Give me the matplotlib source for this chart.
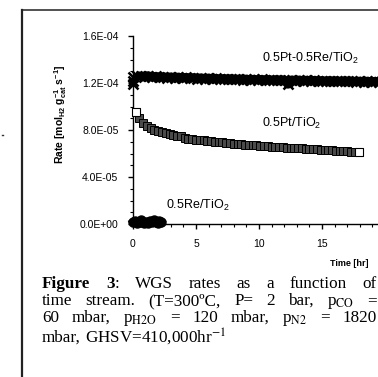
import matplotlib
matplotlib.use("Agg")
import matplotlib.pyplot as plt
from matplotlib.ticker import MultipleLocator, FuncFormatter
from matplotlib.lines import Line2D

# ---------------- data ----------------
pt_time = [0.2, 0.5, 0.8, 1.1, 1.4, 1.7, 2.0, 2.3, 2.6, 2.9,
           3.2, 3.5, 3.8, 4.1, 4.4, 4.7, 5.0, 5.3, 5.6, 5.9,
           6.2, 6.5, 6.8, 7.1, 7.4, 7.7, 8.0, 8.3, 8.6, 8.9,
           9.2, 9.5, 9.8, 10.1, 10.4, 10.7, 11.0, 11.3, 11.6, 11.9,
           12.2, 12.5, 12.8, 13.1, 13.4, 13.7, 14.0, 14.3, 14.6, 14.9,
           15.2, 15.5, 15.8, 16.1, 16.4, 16.7, 17.0, 17.3, 17.6, 17.9]
pt_rate = [9.55e-5, 9.0e-5, 8.62e-5, 8.35e-5, 8.15e-5, 8.0e-5, 7.9e-5, 7.8e-5, 7.72e-5, 7.65e-5,
           7.58e-5, 7.52e-5, 7.46e-5, 7.32e-5, 7.27e-5, 7.23e-5, 7.19e-5, 7.15e-5, 7.11e-5, 7.07e-5,
           7.03e-5, 7.0e-5, 6.97e-5, 6.94e-5, 6.91e-5, 6.88e-5, 6.85e-5, 6.82e-5, 6.79e-5, 6.76e-5,
           6.74e-5, 6.71e-5, 6.69e-5, 6.66e-5, 6.64e-5, 6.62e-5, 6.59e-5, 6.57e-5, 6.55e-5, 6.53e-5,
           6.51e-5, 6.49e-5, 6.47e-5, 6.45e-5, 6.43e-5, 6.41e-5, 6.39e-5, 6.37e-5, 6.35e-5, 6.33e-5,
           6.31e-5, 6.29e-5, 6.27e-5, 6.25e-5, 6.23e-5, 6.21e-5, 6.19e-5, 6.17e-5, 6.15e-5, 6.12e-5]

ptre_time = [0.0, 0.0, 0.0,
             0.3, 0.6, 0.9, 1.2, 1.5, 1.8, 2.1, 2.4, 2.7, 3.0,
             3.3, 3.6, 3.9, 4.2, 4.5, 4.8, 5.1, 5.4, 5.7, 6.0,
             6.3, 6.6, 6.9, 7.2, 7.5, 7.8, 8.1, 8.4, 8.7, 9.0,
             9.3, 9.6, 9.9, 10.2, 10.5, 10.8, 11.1, 11.4, 11.7, 12.0,
             12.3, 12.6, 12.9, 13.2, 13.5, 13.8, 14.1, 14.4, 14.7, 15.0,
             15.3, 15.6, 15.9, 16.2, 16.5, 16.8, 17.1, 17.4, 17.7, 18.0,
             18.3, 18.6, 18.9, 19.2, 19.5, 19.8, 20.1]
ptre_rate = [1.19e-4, 1.22e-4, 1.25e-4,
             1.262e-4, 1.258e-4, 1.254e-4, 1.262e-4, 1.250e-4, 1.256e-4, 1.248e-4, 1.254e-4, 1.246e-4, 1.252e-4,
             1.244e-4, 1.250e-4, 1.242e-4, 1.248e-4, 1.240e-4, 1.246e-4, 1.238e-4, 1.244e-4, 1.237e-4, 1.242e-4,
             1.235e-4, 1.240e-4, 1.233e-4, 1.238e-4, 1.232e-4, 1.236e-4, 1.230e-4, 1.234e-4, 1.229e-4, 1.233e-4,
             1.227e-4, 1.232e-4, 1.226e-4, 1.230e-4, 1.225e-4, 1.229e-4, 1.224e-4, 1.228e-4, 1.222e-4, 1.227e-4,
             1.190e-4, 1.226e-4, 1.220e-4, 1.225e-4, 1.219e-4, 1.224e-4, 1.218e-4, 1.222e-4, 1.217e-4, 1.221e-4,
             1.216e-4, 1.220e-4, 1.215e-4, 1.219e-4, 1.214e-4, 1.218e-4, 1.213e-4, 1.217e-4, 1.212e-4, 1.216e-4,
             1.211e-4, 1.215e-4, 1.210e-4, 1.214e-4, 1.209e-4, 1.213e-4, 1.208e-4]

re_time = [0.0, 0.15, 0.3, 0.45, 0.6, 0.75, 0.9, 1.05, 1.2, 1.35, 1.5, 1.65, 1.8, 1.95, 2.1, 2.25]
re_rate = [1.5e-6, 2.5e-6, 1.0e-6, 2.0e-6, 3.0e-6, 1.5e-6, 0.5e-6, 2.0e-6,
           1.0e-6, 2.5e-6, 1.5e-6, 3.0e-6, 2.0e-6, 1.0e-6, 2.5e-6, 1.5e-6]

x_ticks = [0, 5, 10, 15, 20]
y_ticks = [0.0, 4.0e-5, 8.0e-5, 1.2e-4, 1.6e-4]

labels = ["0.5Pt-0.5Re/TiO$_2$", "0.5Pt/TiO$_2$", "0.5Re/TiO$_2$"]
y_label = r"Rate [mol$_{\mathbf{H2}}$ g$^{\mathbf{-1}}_{\mathbf{cat}}$ s$^{\mathbf{-1}}$]"
x_label = "Time [hr]"

# ---------------- style ----------------
plt.rcParams["font.family"] = ["Liberation Sans", "DejaVu Sans"]
plt.rcParams["mathtext.fontset"] = "custom"
plt.rcParams["mathtext.rm"] = "Liberation Sans"
plt.rcParams["mathtext.it"] = "Liberation Sans:italic"
plt.rcParams["mathtext.bf"] = "Liberation Sans:bold"

W, H = 378, 377
fig = plt.figure(figsize=(W / 100, H / 100), dpi=100)

def fx(px):
    return px / W

def fy(py):
    return 1 - py / H

x0_px, y0_px, ytop_px = 133, 224, 36
px_per_hr = 12.6
ax = fig.add_axes([fx(x0_px), fy(y0_px), 20 * px_per_hr / W, (y0_px - ytop_px) / H])
ax.set_xlim(0, 20)
ax.set_ylim(0, 1.6e-4)
ax.patch.set_alpha(0)
for s in ["top", "right"]:
    ax.spines[s].set_visible(False)
for s in ["left", "bottom"]:
    ax.spines[s].set_linewidth(1.0)
    ax.spines[s].set_color("black")

ax.set_xticks(x_ticks)
ax.set_yticks(y_ticks)
ax.xaxis.set_minor_locator(MultipleLocator(1))
ax.yaxis.set_minor_locator(MultipleLocator(1e-5))
ax.yaxis.set_major_formatter(FuncFormatter(lambda v, p: "%.1E" % v))
ax.tick_params(axis="both", which="major", direction="out", length=3.5, width=1.0, labelsize=7.5)
ax.tick_params(axis="both", which="minor", direction="out", length=2.5, width=0.8)
ax.tick_params(axis="y", which="major", pad=7)
ax.tick_params(axis="x", which="major", pad=7)

# series: 0.5Pt-0.5Re (dense crosses forming a band)
ax.plot(ptre_time[3:], ptre_rate[3:], linestyle="-", linewidth=6.5, color="black",
        solid_capstyle="butt", clip_on=False, zorder=3)
ax.plot(ptre_time, ptre_rate, linestyle="none", marker="x", markersize=7.5,
        markeredgewidth=1.8, color="black", clip_on=False, zorder=3)
# 0.5Pt
ax.plot(pt_time, pt_rate, linestyle="none", marker="s", markersize=6.3,
        markerfacecolor="#4a4a4a", markeredgecolor="black", markeredgewidth=0.7,
        clip_on=False, zorder=4)
ax.plot([pt_time[0], pt_time[-1]], [pt_rate[0], pt_rate[-1]], linestyle="none", marker="s",
        markersize=6.3, markerfacecolor="white", markeredgecolor="black",
        markeredgewidth=0.8, clip_on=False, zorder=5)
# 0.5Re
ax.plot(re_time, re_rate, linestyle="-", linewidth=5.5, marker="o", markersize=6.5,
        color="black", clip_on=False, zorder=4)

# annotations
fig.text(fx(262), fy(58), labels[0], fontsize=9, va="center", ha="left")
fig.text(fx(262), fy(123), labels[1], fontsize=9, va="center", ha="left")
fig.text(fx(166), fy(205), labels[2], fontsize=9, va="center", ha="left")

fig.text(fx(61), fy(114), y_label, rotation=90, fontsize=7.5, fontweight="bold",
         ha="center", va="center")
fig.text(fx(330), fy(263), x_label, fontsize=6.5, fontweight="bold", ha="left", va="center")

# frame lines
fig.add_artist(Line2D([fx(22), fx(22)], [fy(10), fy(377)], color="#222222", linewidth=1.6))
fig.add_artist(Line2D([fx(22), fx(378)], [fy(10), fy(10)], color="#222222", linewidth=1.1))
fig.add_artist(Line2D([fx(1.5), fx(3)], [fy(135), fy(135)], color="#333333", linewidth=1.0))

# caption (justified)
renderer = fig.canvas.get_renderer()
serif = ["Liberation Serif", "DejaVu Serif"]
lines = [
    [[("Figure", "bold")], [("3", "bold"), (":", "normal")], [("WGS", "normal")], [("rates", "normal")],
     [("as", "normal")], [("a", "normal")], [("function", "normal")], [("of", "normal")]],
    [[("time", "normal")], [("stream.", "normal")], [("(T=300ºC,", "normal")], [("P=", "normal")],
     [("2", "normal")], [("bar,", "normal")], [(r"p$_{\mathrm{CO}}$", "normal")], [("=", "normal")]],
    [[("60", "normal")], [("mbar,", "normal")], [(r"p$_{\mathrm{H2O}}$", "normal")], [("=", "normal")],
     [("120", "normal")], [("mbar,", "normal")], [(r"p$_{\mathrm{N2}}$", "normal")], [("=", "normal")],
     [("1820", "normal")]],
    [[("mbar,", "normal")], [(r"GHSV=410,000hr$^{\mathrm{-1}}$", "normal")]],
]
line_center = [283, 300.5, 317, 337.5]
x_left, x_right = 42, 377
cap_size = 12.3

def make(txt, weight, x, y, size):
    return fig.text(fx(x), fy(y), txt, fontsize=size, fontweight=weight,
                    family=serif, math_fontfamily="stix", ha="left", va="baseline")

for li, (tokens, lc) in enumerate(zip(lines, line_center)):
    base = lc + 4.5
    words = []
    for tok in tokens:
        segs = []
        for (t, w) in tok:
            tt = make(t, w, 0, base, cap_size)
            bb = tt.get_window_extent(renderer)
            segs.append((tt, bb.width))
        words.append(segs)
    widths = [sum(w for _, w in segs) for segs in words]
    if li < len(lines) - 1:
        gap = (x_right - x_left - sum(widths)) / (len(words) - 1)
    else:
        gap = 4.0
    x = x_left
    for segs, wd in zip(words, widths):
        xx = x
        for tt, w in segs:
            tt.set_x(fx(xx))
            xx += w
        x += wd + gap

fig.savefig("out.png", dpi=100)
